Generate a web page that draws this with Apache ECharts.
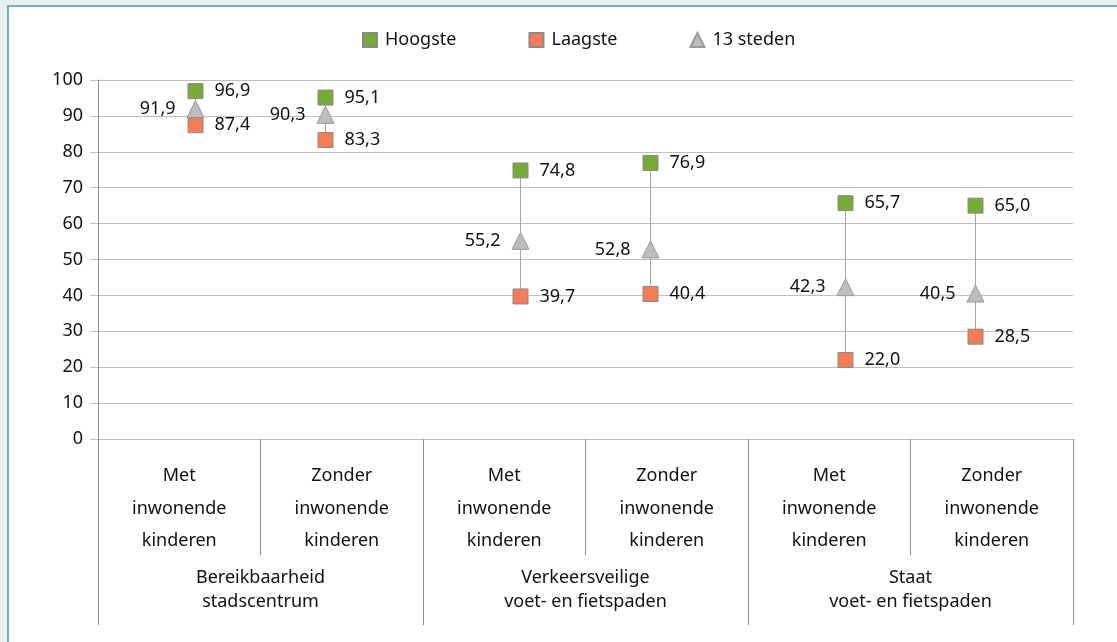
<!DOCTYPE html>
<html>
<head>
    <meta charset="utf-8">
    <title>Hoogste, laagste en 13 steden</title>
    <script src="https://cdn.jsdelivr.net/npm/echarts@6/dist/echarts.min.js"></script>
    <style>
        html, body { margin: 0; padding: 0; background: #e9eef1; }
        #frame { position: absolute; left: 7px; top: 5px; right: 0; bottom: 0;
                 background: #fff; border-top: 2px solid #74adc4; border-left: 2px solid #74adc4; }
        #main { position: absolute; left: 0; top: 0; width: 1117px; height: 642px; }
    </style>
</head>
<body>
    <div id="frame"></div>
    <div id="main"></div>
    <script type="text/javascript">
        var subLabels = ['Met\ninwonende\nkinderen', 'Zonder\ninwonende\nkinderen',
                         'Met\ninwonende\nkinderen', 'Zonder\ninwonende\nkinderen',
                         'Met\ninwonende\nkinderen', 'Zonder\ninwonende\nkinderen'];
        var groupLabels = ['Bereikbaarheid\nstadscentrum', 'Verkeersveilige\nvoet- en fietspaden', 'Staat\nvoet- en fietspaden'];
        var hoogste = [96.9, 95.1, 74.8, 76.9, 65.7, 65.0];
        var laagste = [87.4, 83.3, 39.7, 40.4, 22.0, 28.5];
        var steden = [91.9, 90.3, 55.2, 52.8, 42.3, 40.5];
        var yTicks = [0, 10, 20, 30, 40, 50, 60, 70, 80, 90, 100];

        var font = 'Noto Sans';
        var txt = '#111';
        var shift = 0.1; // markers sit slightly toward the middle of each group

        function xOf(i) {
            return i + 0.5 + (i % 2 === 0 ? shift : -shift);
        }
        function fmt(v) {
            return v.toFixed(1).replace('.', ',');
        }
        function pts(vals) {
            var out = [];
            for (var i = 0; i < vals.length; i++) out.push([xOf(i), vals[i]]);
            return out;
        }
        var ranges = [];
        for (var i = 0; i < hoogste.length; i++) ranges.push([xOf(i), laagste[i], hoogste[i]]);

        var lbl = { show: true, fontFamily: font, fontSize: 18, color: txt, distance: 11,
                    formatter: function (p) { return fmt(p.value[1]); } };

        var myChart = echarts.init(document.getElementById('main'));
        var option = {
            backgroundColor: 'transparent',
            animation: false,
            textStyle: { fontFamily: font },
            legend: {
                data: ['Hoogste', 'Laagste', '13 steden'],
                left: 357, top: 26,
                itemWidth: 14, itemHeight: 14, itemGap: 72,
                textStyle: { fontFamily: font, fontSize: 18, color: txt, padding: [0, 0, 0, 3] }
            },
            grid: { left: 98, right: 44, top: 80, bottom: 203, containLabel: false },
            xAxis: [
                {
                    type: 'category', data: subLabels, position: 'bottom',
                    axisLine: { show: true, lineStyle: { color: '#bfbfbf', width: 1 } },
                    axisTick: { show: true, interval: 0, length: 116, lineStyle: { color: '#8c8c8c' } },
                    axisLabel: { interval: 0, margin: 21, fontSize: 18, lineHeight: 32.5, color: txt, fontFamily: font, verticalAlign: 'top' },
                    splitLine: { show: false }
                },
                {
                    type: 'category', data: groupLabels, position: 'bottom',
                    axisLine: { show: false },
                    axisTick: { show: true, interval: 0, length: 186, lineStyle: { color: '#8c8c8c' } },
                    axisLabel: { interval: 0, margin: 127, fontSize: 18, lineHeight: 24, color: txt, fontFamily: font, verticalAlign: 'top' },
                    splitLine: { show: false }
                },
                { type: 'value', min: 0, max: 6, show: false }
            ],
            yAxis: {
                type: 'value', min: 0, max: 100, interval: 10,
                axisLine: { show: true, lineStyle: { color: '#8c8c8c' } },
                axisTick: { show: true, length: 8, lineStyle: { color: '#bfbfbf' } },
                axisLabel: { margin: 15, fontSize: 18, color: txt, fontFamily: font,
                             formatter: function (v) { return yTicks.indexOf(v) >= 0 ? String(v) : ''; } },
                splitLine: { show: true, lineStyle: { color: '#bfbfbf', width: 1 } }
            },
            series: [
                {
                    type: 'custom', xAxisIndex: 2, z: 1, silent: true,
                    data: ranges,
                    renderItem: function (params, api) {
                        var a = api.coord([api.value(0), api.value(1)]);
                        var b = api.coord([api.value(0), api.value(2)]);
                        return { type: 'line', shape: { x1: a[0], y1: a[1], x2: b[0], y2: b[1] },
                                 style: { stroke: '#a6a6a6', lineWidth: 1 } };
                    }
                },
                {
                    name: '13 steden', type: 'scatter', xAxisIndex: 2, z: 3,
                    data: pts(steden), symbol: 'triangle', symbolSize: 17,
                    itemStyle: { color: '#bdbdbd', borderColor: '#9a9a9a', borderWidth: 1, opacity: 1 },
                    label: Object.assign({}, lbl, { position: 'left' })
                },
                {
                    name: 'Hoogste', type: 'scatter', xAxisIndex: 2, z: 4,
                    data: pts(hoogste), symbol: 'rect', symbolSize: 15,
                    itemStyle: { color: '#77ab37', borderColor: '#8a8a8a', borderWidth: 1, opacity: 1 },
                    label: Object.assign({}, lbl, { position: 'right' })
                },
                {
                    name: 'Laagste', type: 'scatter', xAxisIndex: 2, z: 4,
                    data: pts(laagste), symbol: 'rect', symbolSize: 15,
                    itemStyle: { color: '#f47d58', borderColor: '#8a8a8a', borderWidth: 1, opacity: 1 },
                    label: Object.assign({}, lbl, { position: 'right' })
                }
            ]
        };
        myChart.setOption(option);
    </script>
</body>
</html>
